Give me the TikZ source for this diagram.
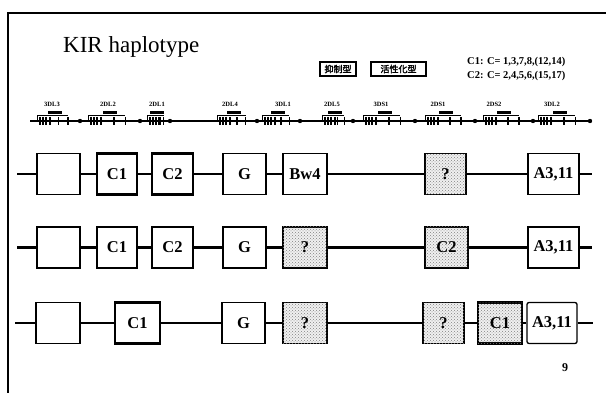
\documentclass[tikz,border=0pt]{standalone}
\usepackage{fontspec}
\setmainfont{Liberation Serif}
\newfontfamily\jpfont[AutoFakeBold=2.5]{Noto Sans CJK JP}
\usetikzlibrary{patterns}
\newcommand\bx[6]{%
  \pgfmathsetmacro\bxw{#3-#2}\pgfmathsetmacro\bxc{(#2+#3)/2}%
  \node[#5, minimum width=\bxw pt] (#1) at (\bxc,#4) {#6};}
\begin{document}
\begin{tikzpicture}[x=1pt,y=-1pt,
  gbox/.style={draw, line width=1.3pt, fill=white, minimum height=41pt, inner sep=0pt,
    font=\bfseries\fontsize{16.5}{16.5}\selectfont},
  cbox/.style={gbox, line width=2.8pt},
  qbox/.style={fill=black!6, postaction={pattern=crosshatch dots, pattern color=black!50}},
  link/.style={line width=2.4pt},
  lbox/.style={draw, line width=1.3pt, minimum height=14pt, inner sep=1pt,
    font=\jpfont\bfseries\fontsize{9}{9}\selectfont},
  glabel/.style={font=\bfseries\fontsize{6.5}{6.5}\selectfont},
  legend/.style={anchor=west, font=\bfseries\fontsize{10.5}{10.5}\selectfont, inner sep=0pt}]
\useasboundingbox (0,0) rectangle (606,393);
% frame
\draw[line width=1.8pt] (8,393) -- (8,13) -- (606,13);
% title
\node[anchor=west, font=\fontsize{23}{23}\selectfont, inner sep=0pt] (title) at (63,47) {KIR haplotype};
% legend boxes
\node[lbox, minimum width=36pt] (inh) at (338,69) {抑制型};
\node[lbox, minimum width=55pt] (act) at (398.5,69) {活性化型};
\node[legend] (lc1) at (467,62) {C1: C= 1,3,7,8,(12,14)};
\node[legend] (lc2) at (467,75.5) {C2: C= 2,4,5,6,(15,17)};
% gene map
\draw[line width=1.3pt] (30,121) -- (591,121);
\foreach \s/\e in {37/80, 88/140, 147/170, 217/257, 262/300, 322/353, 363/415, 425/475, 483/533, 538/590}{
  \pgfmathsetmacro\L{\e-\s}
  \pgfmathsetmacro\bend{\s+0.72*\L}
  \pgfmathsetmacro\bc{\s+0.42*\L}
  \draw[line width=1pt] (\s,121) -- (\s,115.5) -- (\bend,115.5);
  \fill (\bc-7,111) rectangle (\bc+7,114.5);
  \foreach \d in {3,6,9,13}{\draw[line width=1.3pt] (\s+\d,117) -- (\s+\d,125);}
  \draw[line width=1.3pt] (\s+0.5*\L,117) -- (\s+0.5*\L,125);
  \draw[line width=1.3pt] (\s+0.72*\L,117) -- (\s+0.72*\L,125);
  \fill (\e,121) circle (2.2pt);
}
\foreach \x/\t in {52/3DL3, 108/2DL2, 157/2DL1, 230/2DL4, 283/3DL1, 332/2DL5, 381/3DS1, 438/2DS1, 494/2DS2, 552/3DL2}{
  \node[glabel] at (\x,104) {\t};
}
% row 1
\coordinate (r1s) at (17,174); \coordinate (r1t) at (592,174);
\bx{r1a}{37}{80}{174}{gbox}{}
\bx{r1b}{97}{137}{174}{cbox}{C1}
\bx{r1c}{152}{193}{174}{cbox}{C2}
\bx{r1d}{223}{266}{174}{gbox}{G}
\bx{r1e}{283}{327}{174}{gbox}{Bw4}
\bx{r1f}{425}{466}{174}{gbox,qbox}{?}
\bx{r1g}{528}{579}{174}{gbox}{A3,11}
\draw[link] (r1s) -- (r1a) -- (r1b) -- (r1c) -- (r1d) -- (r1e) -- (r1f) -- (r1g) -- (r1t);
% row 2
\coordinate (r2s) at (17,247.5); \coordinate (r2t) at (592,247.5);
\bx{r2a}{37}{80}{247.5}{gbox}{}
\bx{r2b}{97}{137}{247.5}{cbox}{C1}
\bx{r2c}{152}{193}{247.5}{cbox}{C2}
\bx{r2d}{223}{266}{247.5}{gbox}{G}
\bx{r2e}{283}{327}{247.5}{gbox,qbox}{?}
\bx{r2f}{425}{468}{247.5}{cbox,qbox}{C2}
\bx{r2g}{528}{579}{247.5}{gbox}{A3,11}
\draw[link] (r2s) -- (r2a) -- (r2b) -- (r2c) -- (r2d) -- (r2e) -- (r2f) -- (r2g) -- (r2t);
% row 3
\coordinate (r3s) at (15,323); \coordinate (r3t) at (593,323);
\bx{r3a}{36}{80}{323}{gbox}{}
\bx{r3b}{115}{160}{323}{cbox}{C1}
\bx{r3c}{222}{265}{323}{gbox}{G}
\bx{r3d}{283}{327}{323}{gbox,qbox}{?}
\bx{r3e}{423}{464}{323}{gbox,qbox}{?}
\bx{r3f}{478}{522}{323}{cbox,qbox}{C1}
\bx{r3g}{527}{577}{323}{gbox, rounded corners=2pt}{A3,11}
\draw[link] (r3s) -- (r3a) -- (r3b) -- (r3c) -- (r3d) -- (r3e) -- (r3f) -- (r3g) -- (r3t);
% page number
\node[font=\bfseries\fontsize{12}{12}\selectfont] (pg) at (565,368) {9};
\end{tikzpicture}
\end{document}
